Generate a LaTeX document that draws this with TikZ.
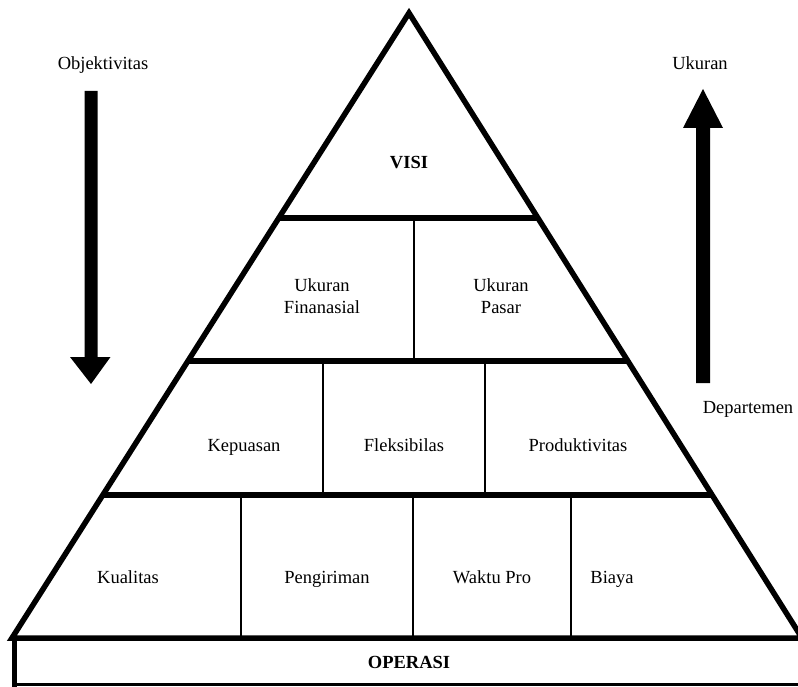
\documentclass[tikz,border=0pt]{standalone}
\usepackage{fontspec}
\setmainfont{Liberation Serif}
\begin{document}
\begin{tikzpicture}[x=1pt,y=-1pt,
  thickline/.style={line width=5.5pt,line join=miter},
  bandline/.style={line width=6pt},
  divline/.style={line width=2pt},
  lbl/.style={font=\fontsize{18.5}{22}\selectfont,inner sep=0pt,align=center},
  onel/.style={lbl,text height=12.5pt,text depth=0pt},
  blbl/.style={onel,font=\fontsize{18.5}{22}\selectfont\bfseries},
  bigarrow/.style={fill=black,draw=none}]
\useasboundingbox (0,0) rectangle (798,687);
\clip (0,0) rectangle (798,687);
% key points of the pyramid
\coordinate (apex) at (409,13);
\coordinate (bl) at (12,638);
\coordinate (br) at (802,638);
% operasi box
\draw[line width=3pt] (14.5,638) -- (14.5,684.5) -- (805,684.5);
\draw[line width=5pt] (14.5,636) -- (14.5,687);
% bands
\draw[bandline] (278.8,218) -- (537.9,218);
\draw[bandline] (187.9,361) -- (627.8,361);
\draw[bandline] (102.8,495) -- (712.1,495);
% dividers
\draw[divline] (414,218) -- (414,361);
\draw[divline] (323,361) -- (323,495);
\draw[divline] (485,361) -- (485,495);
\draw[divline] (241,495) -- (241,638);
\draw[divline] (413,495) -- (413,638);
\draw[divline] (571,495) -- (571,638);
% triangle
\draw[thickline] (bl) -- (apex) -- (br) -- cycle;
% arrows
\fill[bigarrow] (84.5,91) -- (97.5,91) -- (97.5,357) -- (110.5,357) -- (91,384) -- (70,357) -- (84.5,357) -- cycle;
\fill[bigarrow] (696,383) -- (710,383) -- (710,128) -- (723,128) -- (703,89) -- (683,128) -- (696,128) -- cycle;
% labels
\node[onel] (obj) at (103,63) {Objektivitas};
\node[onel] (uk) at (700,63) {Ukuran};
\node[onel] (dep) at (748,407) {Departemen};
\node[blbl] (visi) at (409,162) {VISI};
\node[lbl] (ukf) at (322,296) {Ukuran\\Finanasial};
\node[lbl] (ukp) at (501,296) {Ukuran\\Pasar};
\node[onel] (kep) at (244,445) {Kepuasan};
\node[onel] (flk) at (404,445) {Fleksibilas};
\node[onel] (prd) at (578,445) {Produktivitas};
\node[onel] (kua) at (128,577) {Kualitas};
\node[onel] (pen) at (327,577) {Pengiriman};
\node[onel] (wak) at (492,577) {Waktu Pro};
\node[onel] (bia) at (612,577) {Biaya};
\node[blbl] (ops) at (409,662) {OPERASI};
\end{tikzpicture}
\end{document}
